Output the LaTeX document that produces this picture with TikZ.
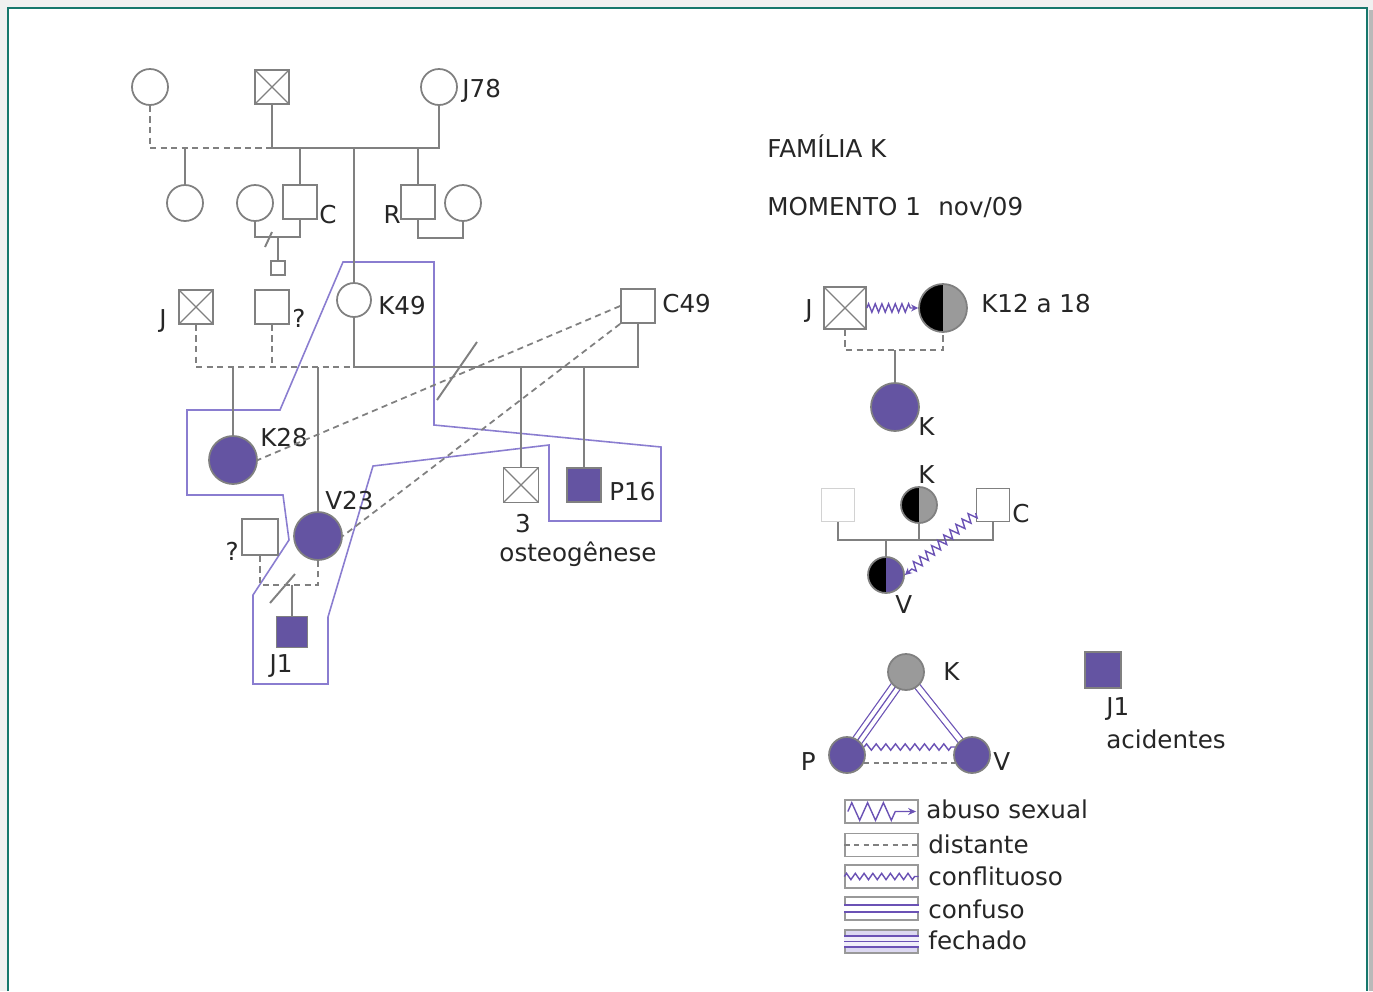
\documentclass[tikz,border=0pt]{standalone}
\usepackage{fontspec}
\setmainfont{DejaVu Sans}
\usepackage{tikz}
\usetikzlibrary{arrows.meta, decorations.pathmorphing, backgrounds}

\definecolor{kpurple}{HTML}{6454A2}
\definecolor{relpurple}{HTML}{6B52B5}
\definecolor{hhpurple}{HTML}{8A7DD0}
\definecolor{linegray}{HTML}{808080}
\definecolor{halfgray}{HTML}{9A9A9A}
\definecolor{framegreen}{HTML}{17776C}

\tikzstyle{male} = [rectangle, draw=linegray, fill=white, line width=1pt,
    minimum size=0.68cm, inner sep=0pt]
\tikzstyle{female} = [circle, draw=linegray, fill=white, line width=1pt,
    minimum size=0.72cm, inner sep=0pt]
\tikzstyle{dead} = [path picture={\draw[linegray, line width=0.7pt]
    (path picture bounding box.north west) -- (path picture bounding box.south east)
    (path picture bounding box.north east) -- (path picture bounding box.south west);}]
\tikzstyle{ill} = [fill=kpurple]
\tikzstyle{halfblack} = [path picture={\fill[black]
    (path picture bounding box.south west) rectangle (path picture bounding box.north);}]
\tikzstyle{legbox} = [rectangle, draw=linegray!80, line width=0.8pt,
    minimum width=1.46cm, minimum height=0.46cm, inner sep=0pt]

\begin{document}
\begin{tikzpicture}[
x = 0.02cm, y = -0.02cm,
font = \fontsize{14}{16}\selectfont, text = black!85,
lbl/.style = {inner sep=0pt},
rel/.style = {draw=linegray, line width=1.1pt},
distant/.style = {draw=linegray, line width=1pt, dash pattern=on 3.5pt off 2.5pt},
household/.style = {draw=hhpurple, line width=0.9pt},
abuse/.style = {draw=relpurple, line width=0.8pt, decorate,
    decoration={zigzag, segment length=3.8pt, amplitude=2.4pt, post length=4pt},
    -{Stealth[length=4pt, width=4pt]}},
conflict/.style = {draw=relpurple, line width=0.8pt, decorate,
    decoration={zigzag, segment length=5.5pt, amplitude=1.8pt}},
fused/.style = {draw=relpurple, line width=0.7pt, double=white, double distance=5.3pt},
confused/.style = {draw=relpurple, line width=0.7pt, double=white, double distance=2.8pt}
                    ]
\useasboundingbox (0,0) rectangle (1373,991);
% frame
\begin{scope}[on background layer]
\fill[gray!12] (0,0) rectangle (1373,991);
\fill[white] (8,8) rectangle (1367,991);
\fill[gray!55] (1369,10) rectangle (1373,991);
\draw[framegreen, line width=1.6pt] (8,991) -- (8,8) -- (1367,8) -- (1367,991);
\end{scope}

% household
\draw[household] (343,262) -- (434,262) -- (434,425) -- (661,447) -- (661,521)
  -- (549,521) -- (549,445) -- (373,466) -- (328,617) -- (328,684) -- (253,684)
  -- (253,595) -- (289,540) -- (283,495) -- (187,495) -- (187,410) -- (280,410) -- cycle;

% generation 1
\node [female] (gm) at (150,87) {};
\node [male, dead] (gf) at (272,87) {};
\node [female] (j78) at (439,87) {};
\node [lbl, anchor=base west] (lj78) at (462,97) {J78};
\coordinate (u1) at (354,148);
\draw[rel] (gf.south) |- (u1) -| (j78.south);
\draw[distant] (gm.south) |- (gf.south |- u1);

% generation 2
\node [female] (f1) at (185,203) {};
\node [female] (f2) at (255,203) {};
\node [male] (mc) at (300,202) {};
\node [lbl, anchor=base west] (lc) at (319,223) {C};
\node [male] (mr) at (418,202) {};
\node [lbl, anchor=base east] (lr) at (401,223) {R};
\node [female] (f3) at (463,203) {};
\draw[rel] (f1.north) -- (f1.north |- u1);
\draw[rel] (mc.north) -- (mc.north |- u1);
\draw[rel] (mr.north) -- (mr.north |- u1);
\coordinate (u2) at (278,237);
\draw[rel] (f2.south) |- (u2) -| (mc.south);
\draw[rel] (mr.south) -- ++(0,18) -| (f3.south);
\draw[rel] (265,247) -- (272,232);
\node [male, minimum size=0.28cm] (ch) at (278,268) {};
\draw[rel] (u2) -- (ch.north);

% generation 3
\node [male, dead] (jm) at (196,307) {};
\node [lbl, anchor=base east] (lj) at (167,327) {J};
\node [male] (qm) at (272,307) {};
\node [lbl, anchor=base west] (lq) at (292,327) {?};
\node [female, minimum size=0.68cm] (k49) at (354,300) {};
\node [lbl, anchor=base west] (lk49) at (378,314) {K49};
\node [male] (c49) at (638,306) {};
\node [lbl, anchor=base west] (lc49) at (662,312) {C49};
\draw[rel] (u1) -- (k49.north);
\coordinate (u3) at (354,367);
\draw[distant] (jm.south) |- (u3);
\draw[distant] (qm.south) -- (qm.south |- u3);
\draw[rel] (k49.south) -- (u3) -| (c49.south);
\draw[rel] (437,400) -- (477,342);

\node [female, ill, minimum size=0.96cm] (k28) at (233,460) {};
\node [lbl, anchor=base west] (lk28) at (260,446) {K28};
\node [female, ill, minimum size=0.96cm] (v23) at (318,536) {};
\node [lbl, anchor=base west] (lv23) at (325,509) {V23};
\node [male, dead, minimum size=0.7cm] (s3) at (521,485) {};
\node [lbl, anchor=base] (l3) at (523,532) {3};
\node [lbl, anchor=base] (lost) at (578,561) {osteogênese};
\node [male, ill, minimum size=0.68cm] (p16) at (584,485) {};
\node [lbl, anchor=base west] (lp16) at (609,500) {P16};
\draw[rel] (k28.north) -- (k28.north |- u3);
\draw[rel] (v23.north) -- (v23.north |- u3);
\draw[rel] (s3.north) -- (s3.north |- u3);
\draw[rel] (p16.north) -- (p16.north |- u3);
\draw[distant] (c49.west) -- (k28.east);
\draw[distant] (c49.south west) -- (v23.east);

% generation 4
\node [male, minimum size=0.72cm] (q4) at (260,537) {};
\node [lbl, anchor=base east] (lq4) at (239,560) {?};
\coordinate (u4) at (292,585);
\draw[distant] (q4.south) |- (u4) -| (v23.south);
\draw[rel] (270,603) -- (295,574);
\node [male, ill, minimum size=0.62cm] (j1) at (292,632) {};
\node [lbl, anchor=base] (lj1) at (281,672) {J1};
\draw[rel] (u4) -- (j1.north);

% titles
\node [lbl, anchor=base west] (tfam) at (767,157) {FAMÍLIA K};
\node [lbl, anchor=base west] (tmom) at (767,215) {MOMENTO 1};
\node [lbl, anchor=base west] (tnov) at (938,215) {nov/09};

% moment 1: J and K
\node [male, dead, minimum size=0.84cm] (jr) at (845,308) {};
\node [lbl, anchor=base east] (ljr) at (813,317) {J};
\node [female, halfblack, fill=halfgray, minimum size=0.96cm] (kr) at (943,308) {};
\node [lbl, anchor=base west] (lkr) at (981,312) {K12 a 18};
\draw[abuse] (jr.east) -- (kr.west);
\coordinate (u5) at (895,350);
\draw[distant] (jr.south) |- (u5) -| (kr.south);
\node [female, ill, minimum size=0.96cm] (kk) at (895,407) {};
\node [lbl, anchor=base west] (lkk) at (918,435) {K};
\draw[rel] (u5) -- (kk.north);

% K, C and V
\node [male, draw=gray!35, minimum size=0.66cm] (m1) at (838,505) {};
\node [female, halfblack, fill=halfgray] (ks) at (919,505) {};
\node [lbl, anchor=base west] (lks) at (918,483) {K};
\node [male, minimum size=0.66cm] (cs) at (993,505) {};
\node [lbl, anchor=base west] (lcs) at (1012,522) {C};
\coordinate (u6) at (886,540);
\draw[rel] (m1.south) |- (u6) -| (cs.south);
\draw[rel] (ks.south) -- (ks.south |- u6);
\node [female, halfblack, fill=kpurple] (vs) at (886,575) {};
\node [lbl, anchor=base west] (lvs) at (895,613) {V};
\draw[rel] (u6) -- (vs.north);
\draw[abuse, decoration={segment length=4.6pt, amplitude=2.6pt}] (cs.205) -- (vs.east);

% triangle
\node [female, fill=halfgray] (kt) at (906,672) {};
\node [lbl, anchor=base west] (lkt) at (943,680) {K};
\node [female, ill] (pt) at (847,755) {};
\node [lbl, anchor=base east] (lpt) at (816,770) {P};
\node [female, ill] (vt) at (972,755) {};
\node [lbl, anchor=base west] (lvt) at (993,770) {V};
\begin{scope}[on background layer]
\draw[fused] (kt.center) -- (pt.center);
\draw[relpurple, line width=0.7pt] (kt.center) -- (pt.center);
\draw[confused] (kt.center) -- (vt.center);
\end{scope}
\draw[conflict] (pt.25) -- (vt.155);
\draw[distant, line width=0.8pt, dash pattern=on 3pt off 2.5pt] (pt.-25) -- (vt.205);

\node [male, ill, minimum size=0.72cm] (j1r) at (1103,670) {};
\node [lbl, anchor=base west] (lj1r) at (1106,715) {J1};
\node [lbl, anchor=base west] (lacid) at (1106,748) {acidentes};

% legend
\node [legbox] (lab) at (881.5,811.5) {};
\draw[abuse, decoration={segment length=9pt, amplitude=5pt, post length=9pt},
  -{Stealth[length=4.5pt, width=4pt]}] ([xshift=2pt]lab.west) -- ([xshift=-1.5pt]lab.east);
\node [lbl, anchor=base west] (tab) at (926,818) {abuso sexual};
\node [legbox] (ldi) at (881.5,845) {};
\draw[distant, line width=0.6pt, dash pattern=on 3pt off 2.5pt] (ldi.west) -- (ldi.east);
\node [lbl, anchor=base west] (tdi) at (928,853) {distante};
\node [legbox] (lco) at (881.5,876.5) {};
\draw[conflict, decoration={segment length=5pt, amplitude=1.8pt}] (lco.west) -- (lco.east);
\node [lbl, anchor=base west] (tco) at (928,885) {conflituoso};
\node [legbox] (lcf) at (881.5,908.5) {};
\draw[confused, double distance=3.4pt] (lcf.west) -- (lcf.east);
\node [lbl, anchor=base west] (tcf) at (928,918) {confuso};
\node [legbox, fill=hhpurple!30] (lfe) at (881.5,941.5) {};
\draw[fused, double=hhpurple!12, double distance=5.6pt] (lfe.west) -- (lfe.east);
\draw[relpurple, line width=0.7pt] (lfe.west) -- (lfe.east);
\node [lbl, anchor=base west] (tfe) at (928,949) {fechado};
\end{tikzpicture}
\end{document}
